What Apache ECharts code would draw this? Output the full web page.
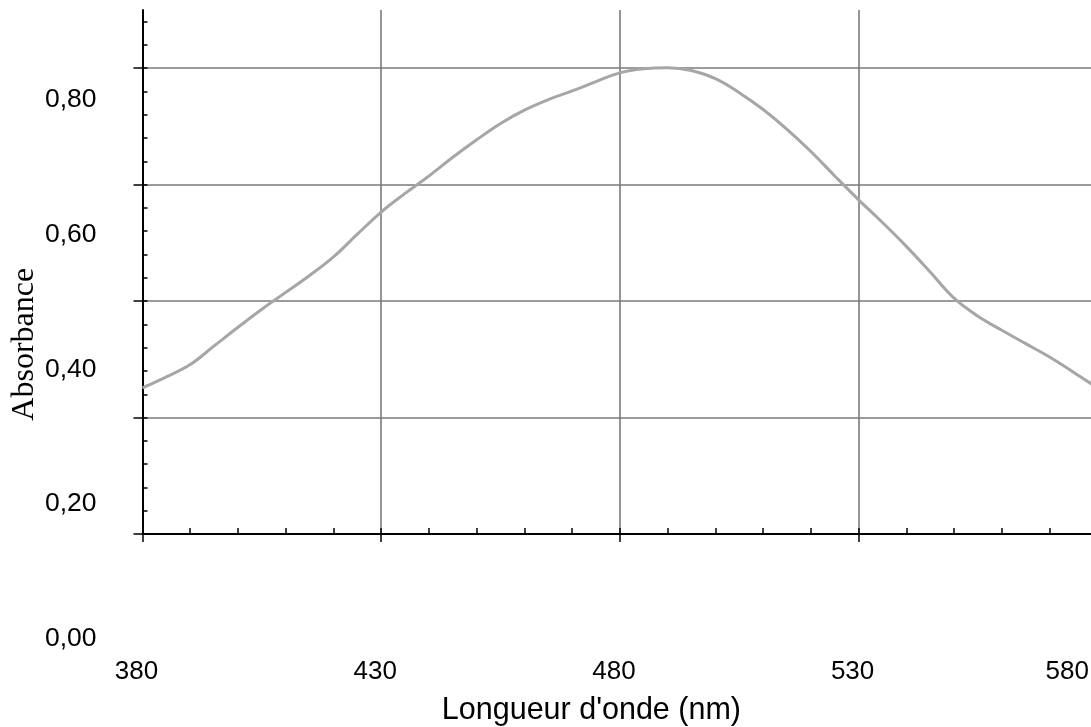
<!DOCTYPE html>
<html>
<head>
<meta charset="utf-8">
<script src="https://cdn.jsdelivr.net/npm/echarts@6/dist/echarts.min.js"></script>
<style>html,body{margin:0;padding:0;background:#fff;}#c{width:1091px;height:727px;}</style>
</head>
<body>
<div id="c"></div>
<script>
// Wavelength (nm) and absorbance
const wavelengths = [380,385,390,395,400,405,410,415,420,425,430,435,440,445,450,455,460,465,470,475,480,485,490,495,500,505,510,515,520,525,530,535,540,545,550,555,560,565,570,575,580];
const absorbance  = [0.251,0.270,0.291,0.323,0.355,0.386,0.415,0.444,0.476,0.515,0.553,0.585,0.615,0.647,0.677,0.705,0.728,0.746,0.761,0.777,0.792,0.799,0.801,0.796,0.782,0.758,0.729,0.695,0.657,0.615,0.574,0.535,0.494,0.450,0.405,0.374,0.350,0.327,0.304,0.278,0.251];
// Tick labels shown on the axes
const xTickLabels = [380,430,480,530,580];
const yTickLabels = [0.00,0.20,0.40,0.60,0.80];
const yGridValues = [0,0.2,0.4,0.6,0.8];

const yMinor = [];
for (let i = 0; i <= 22; i++) yMinor.push(+(i*0.04).toFixed(2));

const chart = echarts.init(document.getElementById('c'), null, {renderer:'canvas'});
const sans = 'Liberation Sans, Arial, sans-serif';
const gridColor = '#7a7a7a';
chart.setOption({
  animation:false,
  backgroundColor:'#fff',
  grid:[
    {left:142.5, right:-6.3, top:10, bottom:193, containLabel:false, outerBoundsMode:'none'},
    {left:142.5, right:-6.3, top:99.5, bottom:88, containLabel:false, outerBoundsMode:'none'}
  ],
  xAxis:[
    {type:'value', gridIndex:0, position:'bottom', min:380, max:580, interval:50,
     axisLine:{show:true, onZero:false, lineStyle:{color:'#000', width:2}},
     axisTick:{show:true, length:8, inside:false, lineStyle:{color:'#000', width:1.5}},
     splitLine:{show:true, lineStyle:{color:gridColor, width:1.6}},
     axisLabel:{show:true, margin:125, fontSize:26, fontFamily:sans, color:'#000',
       customValues: xTickLabels,
       formatter:function(v){ return v===580 ? '{l|'+v+'}' : '{n|'+v+'}'; },
       rich:{ n:{fontSize:26, fontFamily:sans, color:'#000', padding:[0,12,0,0]},
              l:{fontSize:26, fontFamily:sans, color:'#000', padding:[0,60,0,0]} }},
     name:"Longueur d'onde (nm)", nameLocation:'middle', nameGap:161, nameMoveOverlap:false,
     nameTextStyle:{fontSize:30.5, fontFamily:sans, color:'#000', padding:[0,57,0,0]}
    },
    {type:'value', gridIndex:0, position:'bottom', min:380, max:580, interval:10,
     axisLine:{show:false, onZero:false}, axisTick:{show:true, inside:true, length:6, lineStyle:{color:'#000', width:1.5}},
     splitLine:{show:false}, axisLabel:{show:false}},
    {type:'value', gridIndex:1, min:380, max:580, show:false}
  ],
  yAxis:[
    {type:'value', gridIndex:0, position:'left', min:0, max:0.9, interval:0.2,
     axisLine:{show:true, onZero:false, lineStyle:{color:'#000', width:2}},
     axisTick:{show:true, length:9, inside:false, customValues: yGridValues, lineStyle:{color:'#000', width:1.5}},
     splitLine:{show:true, lineStyle:{color:[gridColor,gridColor,gridColor,gridColor,gridColor,'rgba(0,0,0,0)'], width:1.6}},
     axisLabel:{show:false}},
    {type:'value', gridIndex:0, position:'left', offset:0, min:0, max:0.9,
     axisLine:{show:false, onZero:false},
     axisTick:{show:true, inside:true, length:5, customValues: yMinor, lineStyle:{color:'#000', width:1.5}},
     splitLine:{show:false}, axisLabel:{show:false}},
    {type:'value', gridIndex:1, position:'left', min:0, max:0.8, interval:0.2,
     axisLine:{show:false}, axisTick:{show:false}, splitLine:{show:false},
     axisLabel:{show:true, margin:46, fontSize:26.5, fontFamily:sans, color:'#000',
       customValues: yTickLabels,
       formatter:function(v){ return v.toFixed(2).replace('.', ','); }},
     name:'Absorbance', nameLocation:'middle', nameGap:102, nameMoveOverlap:false,
     nameTextStyle:{fontSize:32, fontFamily:'Liberation Serif, Times New Roman, serif', color:'#000', padding:[0,0,0,50]}
    }
  ],
  series:[{
    type:'line', xAxisIndex:0, yAxisIndex:0,
    data: wavelengths.map((w,i)=>[w, absorbance[i]]),
    smooth:0.4, showSymbol:false, symbol:'none',
    lineStyle:{color:'#a6a6a6', width:3},
    z:3
  }]
});
</script>
</body>
</html>
